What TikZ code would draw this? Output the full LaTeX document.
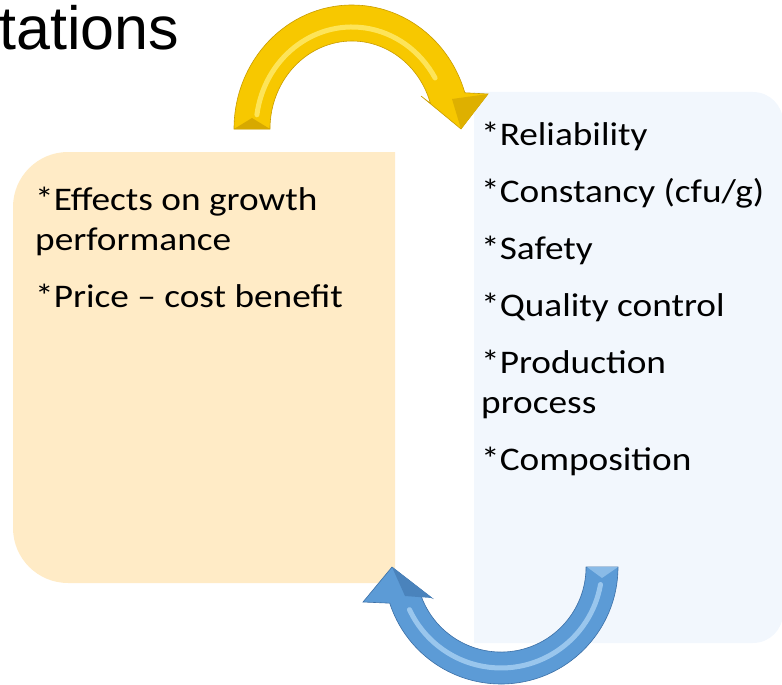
\documentclass[tikz,border=0pt]{standalone}
\usepackage{fontspec}
\setmainfont{Carlito}[FakeStretch=1.13]
\newfontfamily\titlefont{Liberation Sans}

\definecolor{peach}{HTML}{FFEBC6}
\definecolor{paleblue}{HTML}{F2F7FD}
\definecolor{gold}{HTML}{F7C800}
\definecolor{golddark}{HTML}{C99C00}
\definecolor{goldlight}{HTML}{FFEC70}
\definecolor{sky}{HTML}{5C9BD6}
\definecolor{skydark}{HTML}{3B6FA6}
\definecolor{skylight}{HTML}{A9D1F3}

\begin{document}
\begin{tikzpicture}[x=1pt,y=-1pt,
  item/.style={anchor=north west,inner sep=0pt,align=left,font=\fontsize{33}{40}\selectfont},
  stripe/.style={line width=5pt,line cap=round,opacity=0.8}]
  \useasboundingbox (0,0) rectangle (782,685);

  \node[anchor=base west,inner sep=0pt,font=\titlefont\fontsize{61}{61}\selectfont] (title) at (-1,50) {tations};

  % the two boxes
  \fill[peach] (395,152) -- (68,152) arc[start angle=90,end angle=180,radius=55pt]
    -- (13,528) arc[start angle=180,end angle=270,radius=55pt] -- (395,583) -- cycle;
  \fill[paleblue] (474,92) -- (753,92) arc[start angle=90,end angle=0,radius=30pt]
    -- (783,613) arc[start angle=0,end angle=-90,radius=30pt] -- (474,643) -- cycle;

  \node[item] (demands) at (35,187) {*Effects on growth\\performance\\[17pt]*Price -- cost benefit};
  \node[item] (offers) at (481,122) {*Reliability\\[17pt]*Constancy (cfu/g)\\[17pt]*Safety\\[17pt]*Quality control\\[17pt]*Production\\process\\[17pt]*Composition};

  % yellow arrow over the top
  \fill[gold,draw=golddark,line width=0.6pt] (234,129)
    arc[start angle=180,end angle=17,x radius=118pt,y radius=124pt]
    -- (488,94) -- (461,129) -- (421,96) -- (430.4,103.3)
    arc[start angle=17,end angle=180,x radius=82pt,y radius=88pt] -- cycle;
  \draw[stripe,goldlight] (256.9,114.8) arc[start angle=172,end angle=30,x radius=96pt,y radius=102pt];
  \fill[golddark!70!gold] (234,129) -- (252,118) -- (270,129) -- cycle;
  \fill[golddark!55!gold] (452,99) -- (488,94) -- (461,129) -- cycle;

  % blue arrow underneath
  \fill[sky,draw=skydark,line width=0.6pt] (618,567)
    arc[start angle=0,end angle=-162,radius=117pt]
    -- (363,602) -- (392,567) -- (432,598) -- (420.2,593.3)
    arc[start angle=-162,end angle=0,radius=85pt] -- cycle;
  \draw[stripe,skylight] (600.5,584.5) arc[start angle=-10,end angle=-155,radius=101pt];
  \fill[skylight!60!sky] (587,567) -- (602,578) -- (618,567) -- cycle;
  \fill[skydark!55!sky] (405,596) -- (432,598) -- (392,567) -- cycle;
\end{tikzpicture}
\end{document}
